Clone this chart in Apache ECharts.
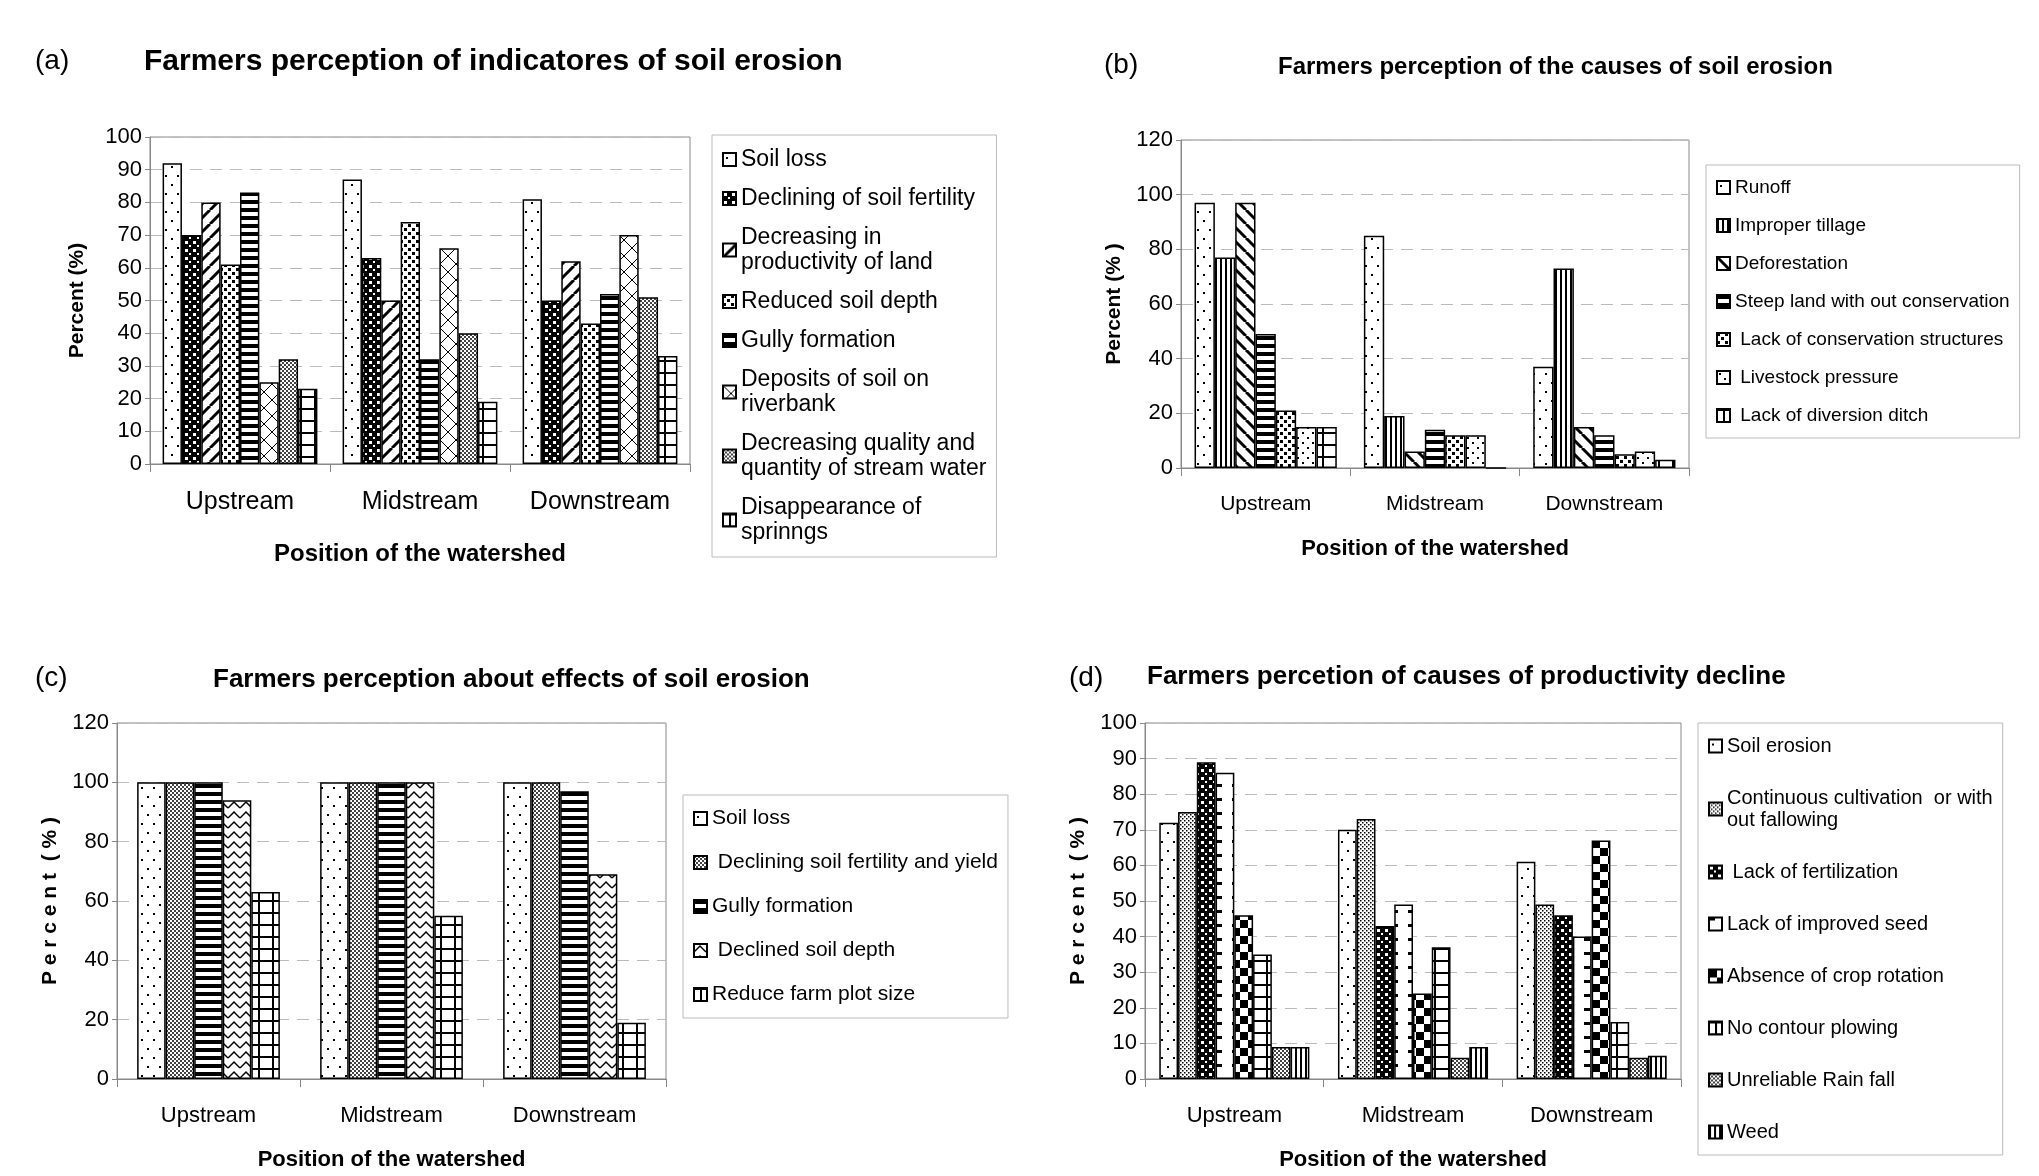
<!DOCTYPE html>
<html>
<head>
<meta charset="utf-8">
<title>Farmers perception</title>
<style>
  html, body { margin: 0; padding: 0; background: #fff; }
  #main { width: 2039px; height: 1176px; }
</style>
<script src="https://cdn.jsdelivr.net/npm/echarts@6/dist/echarts.min.js"></script>
</head>
<body>
<div id="main"></div>
<script>
// ---- data ----
var categories = ['Upstream', 'Midstream', 'Downstream'];

var namesA = ['Soil loss', 'Declining of soil fertility', 'Decreasing in\nproductivity of land', 'Reduced soil depth',
  'Gully formation', 'Deposits of soil on\nriverbank', 'Decreasing quality and\nquantity of stream water', 'Disappearance of\nsprinngs'];
var valuesA = [[92, 87, 81], [70, 63, 50], [80, 50, 62], [61, 74, 43], [83, 32, 52], [25, 66, 70], [32, 40, 51], [23, 19, 33]];
var patsA = ['dots', 'checker', 'diag', 'dotgrid', 'hstripe', 'cross', 'fine', 'grid'];

var namesB = ['Runoff', 'Improper tillage', 'Deforestation', 'Steep land with out conservation',
  ' Lack of conservation structures', ' Livestock pressure', ' Lack of diversion ditch'];
var valuesB = [[97, 85, 37], [77, 19, 73], [97, 6, 15], [49, 14, 12], [21, 12, 5], [15, 12, 6], [15, 0, 3]];
var patsB = ['dots', 'vstripe', 'backdiag', 'hstripe', 'dotgrid', 'dots2', 'grid'];

var namesC = ['Soil loss\u200b', ' Declining soil fertility and yield', 'Gully formation\u200b', ' Declined soil depth', 'Reduce farm plot size'];
var valuesC = [[100, 100, 100], [100, 100, 100], [100, 100, 97], [94, 100, 69], [63, 55, 19]];
var patsC = ['dots', 'fine', 'hstripe', 'zigzag', 'grid'];

var namesD = ['Soil erosion', 'Continuous cultivation  or with\nout fallowing', ' Lack of fertilization', 'Lack of improved seed',
  'Absence of crop rotation', 'No contour plowing', 'Unreliable Rain fall', 'Weed'];
var valuesD = [[72, 70, 61], [75, 73, 49], [89, 43, 46], [86, 49, 40], [46, 24, 67], [35, 37, 16], [9, 6, 6], [9, 9, 6.5]];
var patsD = ['dots', 'dotsdense', 'checker', 'dashes', 'bigchecker', 'grid', 'fine', 'vstripe'];

// ---- patterns ----
function pattern(type) {
  var c = document.createElement('canvas');
  var sizes = { dots: [12, 18], checker: [8, 8], diag: [14, 14], dotgrid: [8, 8], hstripe: [8, 8], cross: [16, 16],
    fine: [4, 4], grid: [14, 12], vstripe: [5, 5], backdiag: [14, 14], dots2: [10, 10], zigzag: [12, 10],
    dotsdense: [4, 4], dashes: [16, 14], bigchecker: [16, 16] };
  var w = sizes[type][0], h = sizes[type][1];
  c.width = w; c.height = h;
  var g = c.getContext('2d');
  g.fillStyle = '#fff'; g.fillRect(0, 0, w, h);
  g.fillStyle = '#000'; g.strokeStyle = '#000';
  if (type === 'dots') { g.fillRect(3, 4, 2, 2); g.fillRect(9, 13, 2, 2); }
  else if (type === 'dots2') { g.fillRect(2, 2, 2, 2); g.fillRect(7, 7, 2, 2); }
  else if (type === 'dotsdense') { g.fillRect(0, 0, 1.5, 1.5); g.fillRect(2, 2, 1.5, 1.5); }
  else if (type === 'checker') { g.fillRect(0, 0, w, h); g.fillStyle = '#fff'; g.fillRect(1, 1, 3, 3); g.fillRect(5, 5, 2, 2); }
  else if (type === 'dotgrid') { g.fillRect(0, 0, 3, 3); g.fillRect(4, 4, 3, 3); }
  else if (type === 'hstripe') { g.fillRect(0, 0, w, 4); }
  else if (type === 'vstripe') { g.fillRect(0, 0, 2, h); }
  else if (type === 'fine') { g.fillStyle = '#444'; g.fillRect(0, 0, 2, 2); g.fillRect(2, 2, 2, 2); }
  else if (type === 'bigchecker') { g.fillRect(0, 0, 8, 8); g.fillRect(8, 8, 8, 8); }
  else if (type === 'diag' || type === 'backdiag') {
    g.lineWidth = 3;
    for (var k = -1; k <= 1; k++) {
      g.beginPath();
      if (type === 'diag') { g.moveTo(k * w, h); g.lineTo(k * w + w, 0); }
      else { g.moveTo(k * w, 0); g.lineTo(k * w + w, h); }
      g.stroke();
    }
  }
  else if (type === 'cross') {
    g.lineWidth = 1;
    g.beginPath(); g.moveTo(0, 0); g.lineTo(w, h); g.moveTo(w, 0); g.lineTo(0, h); g.stroke();
  }
  else if (type === 'grid') {
    g.lineWidth = 2;
    g.beginPath(); g.moveTo(0, 1); g.lineTo(w, 1); g.moveTo(w / 2, 0); g.lineTo(w / 2, h); g.stroke();
  }
  else if (type === 'zigzag') {
    g.lineWidth = 1.5;
    g.beginPath(); g.moveTo(0, 8); g.lineTo(6, 2); g.lineTo(12, 8); g.stroke();
  }
  else if (type === 'dashes') { g.fillRect(0, 0, 6, 3); }
  return { image: c, repeat: 'repeat' };
}

var chart = echarts.init(document.getElementById('main'));

var fa = 'Liberation Sans, Arial, sans-serif';
var fn = "'Liberation Sans Narrow', 'Liberation Sans', Arial, sans-serif";

var panels = [
  { names: namesA, values: valuesA, pats: patsA, grid: { left: 150, top: 137, width: 540, height: 327 },
    max: 100, interval: 10, gap: '14%', font: fa, lab: 25, ylab: 'Percent (%)', legend: { left: 712, top: 135, gap: 14, fs: 23 } },
  { names: namesB, values: valuesB, pats: patsB, grid: { left: 1181, top: 140, width: 508, height: 328 },
    max: 120, interval: 20, gap: '16%', font: fn, lab: 21, ylab: 'Percent (% )', legend: { left: 1706, top: 165, gap: 17, fs: 19 } },
  { names: namesC, values: valuesC, pats: patsC, grid: { left: 117, top: 723, width: 549, height: 356 },
    max: 120, interval: 20, gap: '22%', font: fn, lab: 22, ylab: 'P e r c e n t  ( % )', legend: { left: 683, top: 795, gap: 21, fs: 21 } },
  { names: namesD, values: valuesD, pats: patsD, grid: { left: 1145, top: 723, width: 536, height: 356 },
    max: 100, interval: 10, gap: '16%', font: fn, lab: 22, ylab: 'P e r c e n t  ( % )', legend: { left: 1698, top: 723, gap: 30, fs: 20 } }
];

var option = {
  animation: false,
  backgroundColor: '#fff',
  title: [
    { text: '(a)', left: 30, top: 42, textStyle: { fontFamily: fa, fontWeight: 'normal', fontSize: 28, color: '#000' } },
    { text: 'Farmers perception of indicatores of soil erosion', left: 139, top: 42, textStyle: { fontFamily: fa, fontWeight: 'bold', fontSize: 30, color: '#000' } },
    { text: '(b)', left: 1099, top: 46, textStyle: { fontFamily: fa, fontWeight: 'normal', fontSize: 28, color: '#000' } },
    { text: 'Farmers perception of the causes of soil erosion', left: 1273, top: 50, textStyle: { fontFamily: fn, fontWeight: 'bold', fontSize: 24, color: '#000' } },
    { text: '(c)', left: 30, top: 659, textStyle: { fontFamily: fa, fontWeight: 'normal', fontSize: 28, color: '#000' } },
    { text: 'Farmers perception about effects of soil erosion', left: 208, top: 662, textStyle: { fontFamily: fn, fontWeight: 'bold', fontSize: 26, color: '#000' } },
    { text: '(d)', left: 1064, top: 659, textStyle: { fontFamily: fa, fontWeight: 'normal', fontSize: 28, color: '#000' } },
    { text: 'Farmers percetion of causes of productivity decline', left: 1142, top: 659, textStyle: { fontFamily: fn, fontWeight: 'bold', fontSize: 26, color: '#000' } }
  ],
  grid: [], xAxis: [], yAxis: [], legend: [], series: []
};

panels.forEach(function (p, i) {
  option.grid.push(Object.assign({ show: true, borderColor: '#888', borderWidth: 1, backgroundColor: '#fff' }, p.grid));
  option.xAxis.push({
    type: 'category', gridIndex: i, data: categories,
    name: 'Position of the watershed', nameLocation: 'middle', nameGap: i === 0 ? 78 : 70,
    nameTextStyle: { fontFamily: p.font, fontWeight: 'bold', fontSize: i === 0 ? 24 : 22, color: '#000' },
    axisLine: { lineStyle: { color: '#888' } },
    axisTick: { show: true, alignWithLabel: false, length: 8, lineStyle: { color: '#888' } },
    axisLabel: { interval: 0, fontFamily: p.font, fontSize: p.lab, color: '#000', margin: 26 }
  });
  option.yAxis.push({
    type: 'value', gridIndex: i, min: 0, max: p.max, interval: p.interval,
    name: p.ylab, nameLocation: 'middle', nameGap: i === 0 ? 62 : 56,
    nameTextStyle: { fontFamily: fa, fontWeight: 'bold', fontSize: 21, color: '#000' },
    axisLine: { show: true, lineStyle: { color: '#888' } },
    axisTick: { show: true, length: 5, lineStyle: { color: '#888' } },
    axisLabel: { fontFamily: p.font, fontSize: 22, color: '#000' },
    splitLine: { lineStyle: { color: '#bbb', type: [12, 8] } }
  });
  var L = p.legend;
  option.legend.push({
    orient: 'vertical', left: L.left, top: L.top,
    padding: [12, 10, 12, 10], itemGap: L.gap, itemWidth: 13, itemHeight: 13,
    borderColor: '#bbb', borderWidth: 1, backgroundColor: '#fff',
    data: p.names.map(function (n) { return { name: n, icon: 'rect' }; }),
    textStyle: { fontFamily: p.font, fontSize: L.fs, color: '#000', lineHeight: L.fs + 2 },
    selectedMode: false
  });
  p.names.forEach(function (n, j) {
    option.series.push({
      name: n, type: 'bar', xAxisIndex: i, yAxisIndex: i,
      data: p.values[j], barGap: '0%', barCategoryGap: p.gap,
      itemStyle: { color: pattern(p.pats[j]), borderColor: '#000', borderWidth: 1.5 }
    });
  });
});

chart.setOption(option);
</script>
</body>
</html>
